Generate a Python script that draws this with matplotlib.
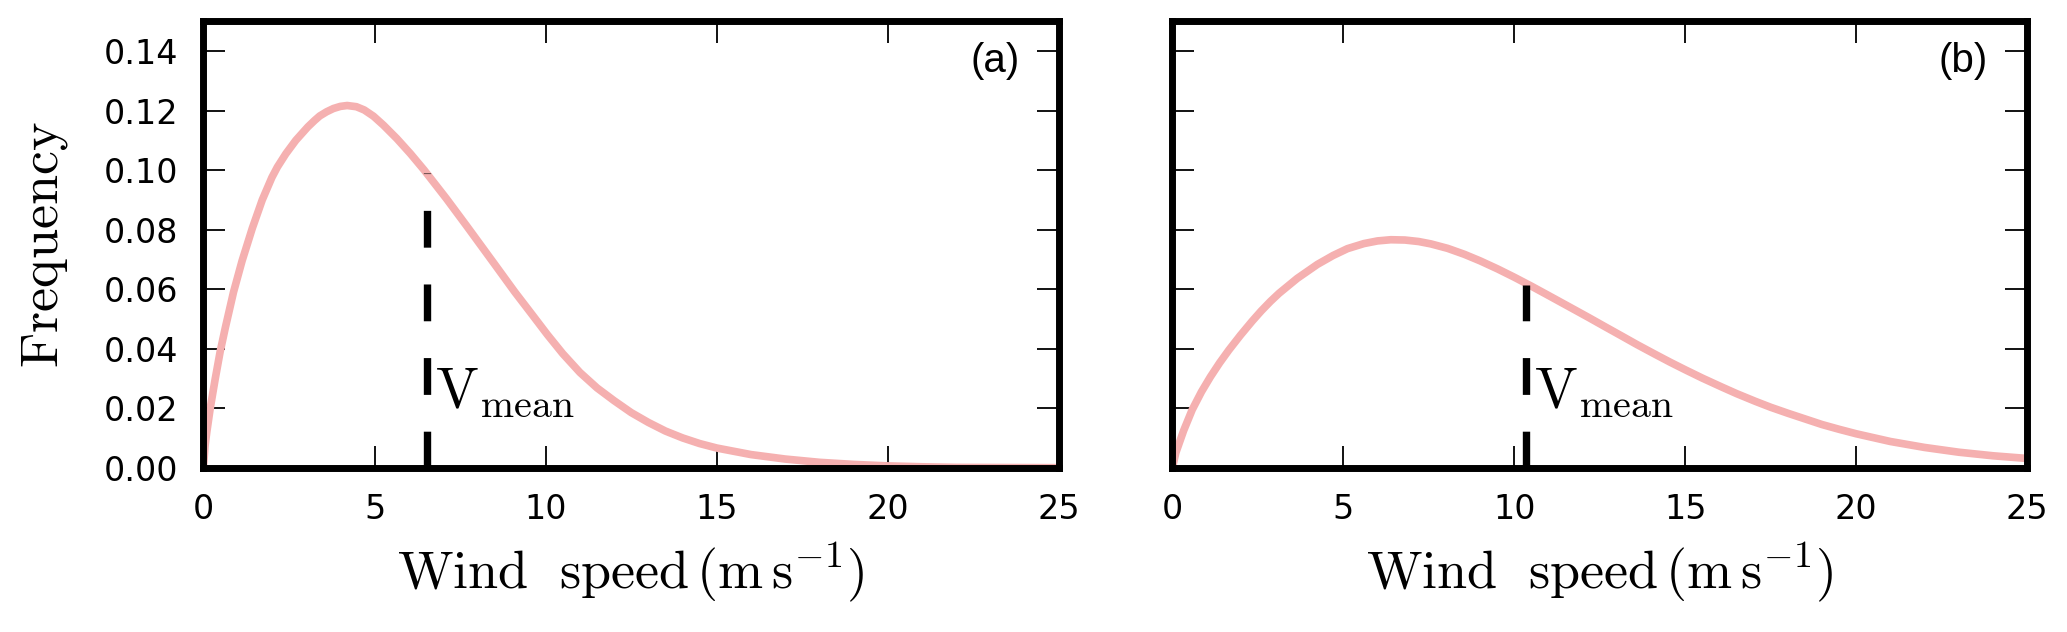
import numpy as np
import matplotlib.pyplot as plt

plt.rcParams["mathtext.fontset"] = "cm"

# wind speed (m/s) and frequency
speed_a = [0, 0.05, 0.1, 0.2, 0.34, 0.49, 0.64, 0.88, 1.13, 1.43, 1.72, 2.0,
           2.16, 2.41, 2.70, 3.05, 3.25, 3.40, 3.6, 3.8, 4.0, 4.2, 4.47, 4.7,
           4.97, 5.26, 5.65, 6.05, 6.45, 7.10, 7.70, 8.10, 8.50, 9.10, 9.6,
           10.05, 10.5, 11.0, 11.5, 12.0, 12.5, 13.0, 13.5, 14.0, 14.5, 15.0,
           16.0, 17.0, 18.0, 19.0, 20.0, 21.0, 22.0, 25.0]
freq_a = [0, 0.0075, 0.012, 0.0200, 0.0295, 0.0390, 0.0470, 0.0590, 0.0695,
          0.0805, 0.0900, 0.0975, 0.1010, 0.1055, 0.1100, 0.1145, 0.1167,
          0.1182, 0.1196, 0.1207, 0.1214, 0.1217, 0.1213, 0.1202, 0.1181,
          0.1151, 0.1106, 0.1055, 0.1000, 0.0904, 0.0811, 0.0748, 0.0685,
          0.0590, 0.0515, 0.0447, 0.0383, 0.0320, 0.0268, 0.0225, 0.0185,
          0.0152, 0.0123, 0.0100, 0.0081, 0.0066, 0.0044, 0.0029, 0.0018,
          0.0011, 0.0006, 0.0003, 0.0001, 0.0]

speed_b = [0, 0.1, 0.33, 0.58, 0.85, 1.11, 1.38, 1.65, 1.99, 2.33, 2.6, 2.87,
           3.12, 3.65, 4.24, 4.7, 5.12, 5.6, 6.0, 6.39, 6.8, 7.2, 7.56, 8.05,
           8.54, 9.0, 9.51, 10.0, 10.5, 10.98, 11.6, 12.17, 12.65, 13.15, 13.6,
           14.12, 14.55, 15.0, 15.5, 16.07, 16.5, 17.05, 17.5, 18.0, 18.5,
           19.0, 19.5, 20.0, 21.0, 22.0, 23.0, 24.0, 25.0]
freq_b = [0, 0.0050, 0.0125, 0.0195, 0.0255, 0.0305, 0.0352, 0.0395, 0.0445,
          0.0492, 0.0527, 0.0559, 0.0586, 0.0636, 0.0683, 0.0713, 0.0736,
          0.0753, 0.0762, 0.0766, 0.0765, 0.0760, 0.0752, 0.0737, 0.0717,
          0.0695, 0.0668, 0.0640, 0.0610, 0.0580, 0.0541, 0.0505, 0.0474,
          0.0442, 0.0413, 0.0381, 0.0355, 0.0329, 0.0301, 0.0271, 0.0249,
          0.0223, 0.0203, 0.0183, 0.0164, 0.0145, 0.0129, 0.0114, 0.0088,
          0.0068, 0.0052, 0.0040, 0.0031]

vmean = [6.52, 10.34]
vmean_top = [0.099, 0.0615]
panel_labels = ["(a)", "(b)"]
xticks = [0, 5, 10, 15, 20, 25]
yticks = [0.00, 0.02, 0.04, 0.06, 0.08, 0.10, 0.12, 0.14]

curve_color = "#f5b0b0"

fig = plt.figure(figsize=(20.67, 6.32), dpi=100)
ax_a = fig.add_axes([0.0984, 0.260, 0.4140, 0.7063])
ax_b = fig.add_axes([0.5672, 0.260, 0.4135, 0.7063])

data = [(speed_a, freq_a), (speed_b, freq_b)]

for i, ax in enumerate([ax_a, ax_b]):
    x, y = data[i]
    ax.plot(x, y, color=curve_color, lw=5.5, solid_capstyle="butt",
            solid_joinstyle="round", zorder=2)
    ax.plot([vmean[i], vmean[i]], [0, vmean_top[i]], color="black", lw=5.3,
            dashes=(5, 5), dash_capstyle="butt", zorder=3)
    ax.text(vmean[i] + 0.25, 0.020, r"$\mathrm{V_{mean}}$", fontsize=41,
            ha="left", va="baseline")
    ax.text(23.85, 0.1365, panel_labels[i], fontsize=29,
            family="Liberation Sans", ha="right", va="center")

    ax.set_xlim(0, 25)
    ax.set_ylim(0, 0.15)
    ax.set_xticks(xticks)
    ax.set_yticks(yticks)
    ax.set_yticklabels(["%.2f" % v for v in yticks])
    ax.tick_params(direction="in", length=16, width=1.3, top=True, right=True,
                   labelsize=24, pad=18)
    for sp in ax.spines.values():
        sp.set_linewidth(5)
    ax.set_xlabel(r"$\mathrm{Wind\ \ speed}\,(\mathrm{m\,s^{-1}})$",
                  fontsize=39, labelpad=11)

ax_a.set_ylabel(r"$\mathrm{Frequency}$", fontsize=39, labelpad=24)
ax_b.tick_params(labelleft=False)

plt.savefig("out.png", dpi=100)
